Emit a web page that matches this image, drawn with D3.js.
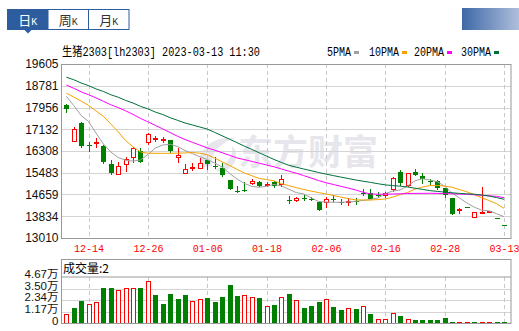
<!DOCTYPE html>
<html>
<head>
<meta charset="utf-8">
<script src="https://cdn.jsdelivr.net/npm/d3@7"></script>
<style>
body { margin: 0; background: #fff; }
svg { display: block; }
</style>
</head>
<body>
<svg id="chart"></svg>
<script>
const width = 519, height = 331;

// trading days shown on the chart
const dates = ["12-09","12-12","12-13","12-14","12-15","12-16","12-19","12-20","12-21","12-22",
  "12-23","12-26","12-27","12-28","12-29","12-30","01-03","01-04","01-05","01-06",
  "01-09","01-10","01-11","01-12","01-13","01-16","01-17","01-18","01-19","01-20",
  "01-30","01-31","02-01","02-02","02-03","02-06","02-07","02-08","02-09","02-10",
  "02-13","02-14","02-15","02-16","02-17","02-20","02-21","02-22","02-23","02-24",
  "02-27","02-28","03-01","03-02","03-03","03-06","03-07","03-08","03-09","03-13"];

const opens  = [18051,16637,17369,16535,16600,16497,15804,15387,15751,16069,
  16308,16600,16774,16675,16725,16031,15425,15682,15625,15955,
  15751,15675,15209,14803,14830,15057,15121,15030,15144,15019,
  14462,14386,14538,14500,14386,14325,14489,14375,14337,14401,
  14716,14727,14652,14576,14818,15500,14955,15500,15360,15159,
  15171,14894,14515,14007,14174,13757,13958,14030,13760,13505];
const highs  = [18078,17206,17395,16637,16789,16535,15967,15902,16092,16471,
  16410,16979,16888,16850,16725,16410,15804,15842,16031,15955,
  16092,15842,15209,14993,15121,15246,15171,15121,15171,15398,
  14614,14553,14667,14576,14413,14576,14640,14489,14515,14515,
  14856,14856,14765,14765,15334,15588,15463,15625,15463,15235,
  15209,14894,14538,14159,14174,14007,14955,14034,13760,13505];
const lows   = [17748,16637,16433,16258,16410,15815,15398,15387,15523,15842,
  15842,16535,16660,16622,16221,15842,15425,15550,15625,15588,
  15625,15334,14830,14727,14765,15019,14932,14955,14894,14955,
  14288,14363,14413,14413,14034,14159,14363,14261,14235,14261,
  14614,14489,14538,14538,14765,14993,14955,15372,15046,15019,
  14830,14515,13882,13909,14170,13757,13947,14030,13757,13503];
const closes = [17899,17141,16509,16516,16649,15902,15474,15739,15993,16433,
  15902,16941,16800,16762,16308,16156,15625,15713,15864,15815,
  15728,15398,14868,14780,14803,15171,14981,15057,14981,15246,
  14439,14515,14488,14477,14098,14489,14462,14348,14413,14375,
  14690,14515,14629,14704,15273,15083,15463,15398,15246,15133,
  14917,14640,13909,14098,14170,13984,14007,14034,13757,13503];

// volume in 万 (10k lots)
const volumes = [0.94,1.54,2.24,1.91,2.11,3.55,3.55,3.35,3.61,3.61,
  3.55,4.25,2.85,1.94,2.95,2.44,2.84,2.24,2.44,2.54,
  2.14,2.64,3.85,2.74,2.84,2.64,2.54,1.74,1.84,2.64,
  2.94,2.34,1.54,1.74,2.14,2.44,1.64,1.34,1.54,1.44,
  1.74,0.94,0.50,0.50,1.10,0.74,0.50,0.40,0.40,0.33,
  0.40,0.54,0.06,0.06,0.05,0.05,0.05,0.05,0.04,0.0002];

// moving averages
const ma5  = [18381,18032,17653,17426,16990,16573,16270,16061,15959,15925,
  15967,16175,16421,16535,16562,16478,16327,16209,16092,15982,
  15853,15705,15463,15246,15080,14966,14932,14970,15038,14985,
  14856,14731,14678,14538,14394,14371,14363,14363,14375,14401,
  14432,14470,14526,14693,14792,14830,14981,15178,15258,15209,
  15144,14974,14712,14526,14337,14178,14064,14037,13931,13818];
const ma10 = [18502,18354,18199,18036,17827,17623,17331,17032,16702,16463,
  16270,16225,16220,16218,16222,16226,16232,16251,16224,16164,
  16039,15895,15762,15614,15474,15372,15269,15224,15174,15068,
  14996,14917,14849,14788,14731,14678,14621,14561,14504,14455,
  14451,14448,14466,14488,14561,14655,14735,14864,14940,14996,
  15004,14977,14932,14845,14761,14651,14538,14428,14310,14136];
const ma20 = [18805,18685,18550,18441,18320,18191,18060,17953,17830,17695,
  17543,17414,17278,17145,17005,16865,16744,16637,16531,16425,
  16338,16243,16145,16046,15982,15914,15845,15777,15709,15625,
  15542,15466,15375,15284,15186,15106,15038,14970,14902,14830,
  14742,14678,14670,14667,14678,14686,14697,14701,14701,14705,
  14701,14693,14686,14674,14667,14648,14629,14610,14587,14538];
const ma30 = [19105,19010,18885,18785,18660,18565,18440,18345,18225,18125,
  18000,17905,17785,17690,17570,17470,17369,17293,17217,17138,
  17013,16884,16755,16626,16493,16368,16239,16114,15986,15872,
  15766,15694,15625,15561,15493,15432,15375,15319,15265,15209,
  15163,15118,15068,15023,14996,14974,14943,14898,14852,14807,
  14777,14750,14723,14701,14682,14670,14640,14598,14542,14477];

const priceTicks = [19605, 18781, 17956, 17132, 16308, 15483, 14659, 13834, 13010];
const volTicks = [0, 1.17, 2.34, 3.50, 4.67];
const volTickLabels = ["0", "1.17万", "2.34万", "3.50万", "4.67万"];
const labelIdx = [3, 11, 19, 27, 35, 43, 51, 59];
const maNames = ["5PMA", "10PMA", "20PMA", "30PMA"];
const maColors = ["#a0a0a0", "#f5a200", "#ff00ff", "#00703a"];
const tabs = ["日", "周", "月"];
const title = "生猪2303[lh2303] 2023-03-13 11:30";
const volTitle = "成交量:2";

const UP = "#ff0000", DOWN = "#008000", GRID = "#d4d4d4", FRAME = "#999";
const monoFont = '"Liberation Mono","DejaVu Sans Mono","Noto Sans CJK SC",monospace';
const sansFont = '"Liberation Sans",Arial,"Noto Sans CJK SC",sans-serif';

const plot = { left: 61.5, right: 511, top: 64, bottom: 238 };
const vol = { top: 259.5, head: 277, bottom: 323.5 };

const svg = d3.select("#chart").attr("width", width).attr("height", height);

// ---- tabs
const tabW = 40.5;
tabs.forEach((t, i) => {
    const g = svg.append("g").attr("transform", `translate(${7.5 + i * tabW},9.5)`);
    g.append("rect").attr("width", tabW).attr("height", 20)
        .attr("fill", i === 0 ? "#2d5d9f" : "#fff")
        .attr("stroke", "#2d5d9f");
    const tx = g.append("text").attr("x", tabW / 2).attr("y", 15)
        .attr("text-anchor", "middle")
        .attr("fill", i === 0 ? "#fff" : "#333")
        .style("font-family", '"Noto Sans CJK SC",sans-serif');
    tx.append("tspan").text(t).style("font-size", "13px");
    tx.append("tspan").text("K").style("font-size", "10px").style("font-family", monoFont);
});
svg.append("path").attr("d", "M24,29.5L32,29.5L28,33.5Z").attr("fill", "#2d5d9f");

const grad = svg.append("defs").append("linearGradient").attr("id", "blk");
grad.append("stop").attr("offset", "0%").attr("stop-color", "#3e68a6");
grad.append("stop").attr("offset", "100%").attr("stop-color", "#aebfdc");
svg.append("rect").attr("x", 462).attr("y", 8).attr("width", 57).attr("height", 22)
    .attr("fill", "url(#blk)");

// ---- header
svg.append("text").attr("x", 62).attr("y", 56)
    .attr("textLength", 198).attr("lengthAdjust", "spacingAndGlyphs")
    .style("font-family", monoFont).style("font-size", "12px").attr("fill", "#000")
    .text(title);

const legendX = [327, 369, 414, 461];
maNames.forEach((n, i) => {
    svg.append("text").attr("x", legendX[i]).attr("y", 56)
        .attr("textLength", n.length * 6).attr("lengthAdjust", "spacingAndGlyphs")
        .style("font-family", monoFont).style("font-size", "12px").attr("fill", "#000")
        .text(n);
    svg.append("rect").attr("x", legendX[i] + n.length * 6 + 3).attr("y", 51)
        .attr("width", 5).attr("height", 3).attr("fill", maColors[i]);
});

// ---- scales
const x = d3.scaleLinear().domain([0, dates.length - 1]).range([plot.left + 4.8, plot.right - 7]);
const y = d3.scaleLinear().domain([priceTicks[priceTicks.length - 1], priceTicks[0]])
    .range([plot.bottom, plot.top]);
const yv = d3.scaleLinear().domain([0, volTicks[volTicks.length - 1]]).range([vol.bottom, vol.head]);
const px = i => Math.round(x(i));

// ---- watermark
const wm = svg.append("g").attr("fill", "#e6e6ec");
wm.append("path")
    .attr("d", "M200,168 C196,150 212,136 236,138 C222,142 210,152 212,166 Z M214,170 C226,166 234,156 232,146 C240,154 236,166 224,172 Z");
wm.append("text").attr("x", 238).attr("y", 164.5)
    .style("font-family", '"Noto Sans CJK SC",sans-serif').style("font-size", "35px")
    .style("font-weight", "bold").text("东方财富");

// ---- grid, main panel
svg.append("g").selectAll("line").data(priceTicks.slice(1, -1)).join("line")
    .attr("x1", plot.left).attr("x2", plot.right)
    .attr("y1", d => Math.round(y(d)) + 0.5).attr("y2", d => Math.round(y(d)) + 0.5)
    .attr("stroke", GRID);
svg.append("g").selectAll("line").data(labelIdx).join("line")
    .attr("x1", d => px(d) + 0.5).attr("x2", d => px(d) + 0.5)
    .attr("y1", plot.top).attr("y2", plot.bottom)
    .attr("stroke", "#c8c8c8").attr("stroke-dasharray", "4,3");

// ---- candles
const isUp = i => closes[i] >= opens[i];
const candles = svg.append("g").style("shape-rendering", "crispEdges")
    .selectAll("g").data(dates.map((d, i) => i)).join("g");
candles.append("line")
    .attr("x1", i => px(i) + 0.5).attr("x2", i => px(i) + 0.5)
    .attr("y1", i => y(highs[i])).attr("y2", i => y(lows[i]))
    .attr("stroke", i => isUp(i) ? UP : DOWN);
candles.append("rect")
    .attr("x", i => isUp(i) ? px(i) - 1.5 : px(i) - 2)
    .attr("width", i => isUp(i) ? 4 : 5)
    .attr("y", i => Math.round(y(Math.max(opens[i], closes[i]))) + (isUp(i) ? 0.5 : 0))
    .attr("height", i => Math.max(1, Math.abs(y(opens[i]) - y(closes[i])) - (isUp(i) ? 1 : 0)))
    .attr("fill", i => isUp(i) ? "#fff" : DOWN)
    .attr("stroke", i => isUp(i) ? UP : "none");

// ---- moving averages
[ma5, ma10, ma20, ma30].forEach((ma, k) => {
    svg.append("path").datum(ma)
        .attr("d", d3.line().x((d, i) => x(i)).y(d => y(d)))
        .attr("fill", "none").attr("stroke", maColors[k]).attr("stroke-width", 1);
});

// ---- main frame + axes
svg.append("rect").attr("x", plot.left).attr("y", plot.top + 0.5)
    .attr("width", plot.right - plot.left).attr("height", plot.bottom - plot.top)
    .attr("fill", "none").attr("stroke", FRAME);

const yAxis = svg.append("g").attr("transform", `translate(${plot.left},0)`)
    .call(d3.axisLeft(y).tickValues(priceTicks).tickFormat(d3.format("d")).tickSize(0).tickPadding(3));
yAxis.select(".domain").remove();
yAxis.selectAll("text").style("font-family", sansFont).style("font-size", "12px").attr("fill", "#111");

const xAxis = svg.append("g").attr("transform", `translate(0,${plot.bottom})`)
    .call(d3.axisBottom(x).tickValues(labelIdx).tickFormat(i => dates[i]).tickSize(0).tickPadding(7));
xAxis.select(".domain").remove();
xAxis.selectAll("text").style("font-family", monoFont).style("font-size", "10px").attr("fill", "#f00");

// ---- volume panel
svg.append("g").selectAll("line").data(volTicks.slice(1, -1)).join("line")
    .attr("x1", plot.left).attr("x2", plot.right)
    .attr("y1", d => Math.round(yv(d)) + 0.5).attr("y2", d => Math.round(yv(d)) + 0.5)
    .attr("stroke", GRID);
svg.append("g").selectAll("line").data(labelIdx).join("line")
    .attr("x1", d => px(d) + 0.5).attr("x2", d => px(d) + 0.5)
    .attr("y1", vol.head).attr("y2", vol.bottom)
    .attr("stroke", "#c8c8c8").attr("stroke-dasharray", "4,3");

// bar colour follows close vs previous close
const volUp = i => i === 0 || closes[i] >= closes[i - 1];
svg.append("g").style("shape-rendering", "crispEdges")
    .selectAll("rect").data(volumes).join("rect")
    .attr("x", (d, i) => volUp(i) ? px(i) - 1.5 : px(i) - 2)
    .attr("width", (d, i) => volUp(i) ? 4 : 5)
    .attr("y", (d, i) => Math.min(yv(d), vol.bottom - 1.5) + (volUp(i) ? 0.5 : 0))
    .attr("height", (d, i) => Math.max(1.5, vol.bottom - yv(d)) - (volUp(i) ? 1 : 0))
    .attr("fill", (d, i) => volUp(i) ? "#fff" : DOWN)
    .attr("stroke", (d, i) => volUp(i) ? UP : "none");

svg.append("rect").attr("x", plot.left).attr("y", vol.top)
    .attr("width", plot.right - plot.left).attr("height", vol.bottom - vol.top)
    .attr("fill", "none").attr("stroke", FRAME);
svg.append("line").attr("x1", plot.left).attr("x2", plot.right)
    .attr("y1", vol.head).attr("y2", vol.head).attr("stroke", FRAME);

svg.append("text").attr("x", 63).attr("y", 272.5)
    .style("font-family", '"Noto Sans CJK SC",sans-serif').style("font-size", "12px")
    .attr("fill", "#000").text(volTitle);

const vAxis = svg.append("g").attr("transform", `translate(${plot.left},0)`)
    .call(d3.axisLeft(yv).tickValues(volTicks).tickFormat((d, i) => volTickLabels[i]).tickSize(0).tickPadding(3));
vAxis.select(".domain").remove();
vAxis.selectAll("text").attr("dy", "0.05em")
    .style("font-family", sansFont).style("font-size", "11.5px").attr("fill", "#111");
</script>
</body>
</html>
